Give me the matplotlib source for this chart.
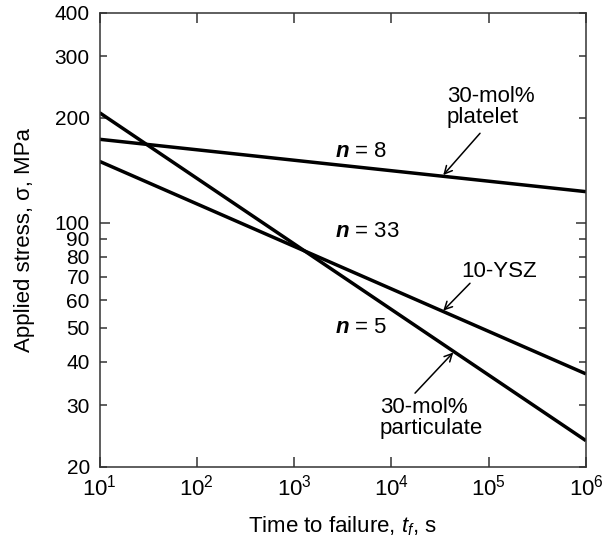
import numpy as np
import matplotlib
matplotlib.use('Agg')
import matplotlib.pyplot as plt

plt.rcParams['font.family'] = ['Liberation Sans', 'DejaVu Sans']
plt.rcParams['mathtext.fontset'] = 'custom'
plt.rcParams['mathtext.rm'] = 'Liberation Sans'
plt.rcParams['mathtext.it'] = 'Liberation Sans:italic'
plt.rcParams['mathtext.bf'] = 'Liberation Sans:bold'
plt.rcParams['mathtext.bfit'] = 'Liberation Sans:italic:bold'

# ---- data ----
time_s = [1e1, 1e6]
platelet_stress = [173.5, 122.8]      # 30-mol% platelet
ysz_stress = [150.0, 36.9]            # 10-YSZ
particulate_stress = [206.8, 23.75]   # 30-mol% particulate

x_ticks = [1e1, 1e2, 1e3, 1e4, 1e5, 1e6]
x_tick_labels = [r'$10^{1}$', r'$10^{2}$', r'$10^{3}$', r'$10^{4}$', r'$10^{5}$', r'$10^{6}$']
y_major_ticks = [100]
y_minor_ticks = [20, 30, 40, 50, 60, 70, 80, 90, 200, 300, 400]

FS = 16
fig = plt.figure(figsize=(6.15, 5.42), dpi=100)
ax = fig.add_axes([0.1618, 0.1389, 0.7910, 0.8377])

for s in (platelet_stress, ysz_stress, particulate_stress):
    ax.plot(time_s, s, color='black', lw=2.5, solid_capstyle='butt')

ax.set_xscale('log')
ax.set_yscale('log')
ax.set_xlim(1e1, 1e6)
ax.set_ylim(20, 400)

ax.set_xticks(x_ticks)
ax.set_xticklabels(x_tick_labels)
ax.xaxis.set_minor_locator(matplotlib.ticker.NullLocator())
ax.set_yticks(y_major_ticks)
ax.set_yticklabels([str(v) for v in y_major_ticks])
ax.set_yticks(y_minor_ticks, minor=True)
ax.set_yticklabels([str(v) for v in y_minor_ticks], minor=True)

spine_color = '#333333'
for sp in ax.spines.values():
    sp.set_color(spine_color)
    sp.set_linewidth(1.1)

ax.tick_params(axis='x', which='major', direction='in', length=7.5, width=1.1,
               top=True, color=spine_color, labelsize=FS, pad=6)
ax.tick_params(axis='y', which='major', direction='in', length=7.5, width=1.1,
               right=True, color=spine_color, labelsize=15, pad=7)
ax.tick_params(axis='y', which='minor', direction='in', length=5, width=1.1,
               right=True, color=spine_color, labelsize=15, pad=7)

ax.set_xlabel(r'Time to failure, $t_f$, s', fontsize=FS, labelpad=10)
ax.set_ylabel('Applied stress, σ, MPa', fontsize=FS, labelpad=14)

# ---- annotations ----
ax.text(10**3.42, 159.6, r'$\mathbfit{n}$ = 8', fontsize=FS, va='center', ha='left')
ax.text(10**3.42, 94.2, r'$\mathbfit{n}$ = 33', fontsize=FS, va='center', ha='left')
ax.text(10**3.42, 50.1, r'$\mathbfit{n}$ = 5', fontsize=FS, va='center', ha='left')

arrow = dict(arrowstyle='->,head_length=0.55,head_width=0.28', lw=1.1,
             color='black', shrinkA=0, shrinkB=0)
ax.annotate('', xy=(10**4.533, 137.0), xytext=(10**4.911, 180.5), arrowprops=arrow)
ax.annotate('', xy=(10**4.533, 56.0), xytext=(10**4.808, 67.1), arrowprops=arrow)
ax.annotate('', xy=(10**4.636, 42.5), xytext=(10**4.243, 32.5), arrowprops=arrow)

ax.text(10**4.568, 215, '30-mol%\nplatelet', fontsize=FS, va='center', ha='left',
        linespacing=1.0)
ax.text(10**4.723, 72.4, '10-YSZ', fontsize=FS, va='center', ha='left')
ax.text(10**3.883, 27.6, '30-mol%\nparticulate', fontsize=FS, va='center', ha='left',
        linespacing=1.0)

fig.savefig('out.png', dpi=100, facecolor='white')
